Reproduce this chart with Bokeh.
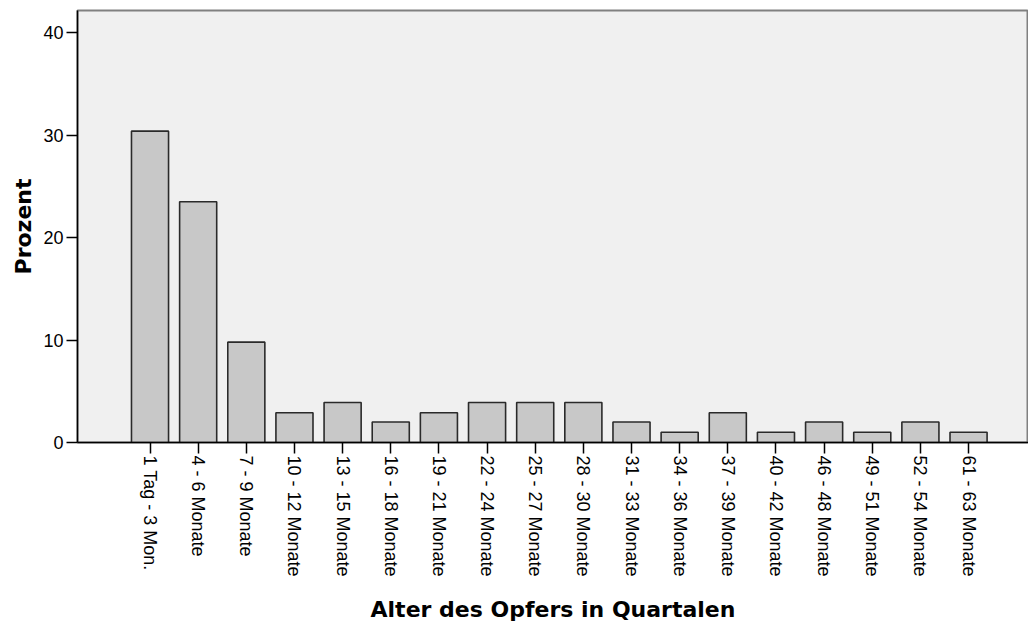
import math
from bokeh.plotting import figure
from bokeh.models import ColumnDataSource, FixedTicker, Range1d
from bokeh.embed import file_html
from bokeh.resources import INLINE

categories = ["1 Tag - 3 Mon.", "4 - 6 Monate", "7 - 9 Monate", "10 - 12 Monate",
              "13 - 15 Monate", "16 - 18 Monate", "19 - 21 Monate", "22 - 24 Monate",
              "25 - 27 Monate", "28 - 30 Monate", "31 - 33 Monate", "34 - 36 Monate",
              "37 - 39 Monate", "40 - 42 Monate", "46 - 48 Monate", "49 - 51 Monate",
              "52 - 54 Monate", "61 - 63 Monate"]
prozent = [30.4, 23.5, 9.8, 2.9, 3.9, 2.0, 2.9, 3.9, 3.9, 3.9, 2.0, 1.0,
           2.9, 1.0, 2.0, 1.0, 2.0, 1.0]
y_ticks = [0, 10, 20, 30, 40]

xs = list(range(len(categories)))
src = ColumnDataSource(dict(x=xs, top=prozent))

p = figure(width=1028, height=624, output_backend="svg", toolbar_location=None,
           x_range=Range1d(-1.506, 18.245), y_range=Range1d(0, 42.18),
           min_border_left=77, min_border_right=0, min_border_top=10,
           min_border_bottom=180)

p.background_fill_color = "#F0F0F0"
p.border_fill_color = "white"
p.outline_line_color = "#808080"
p.outline_line_width = 2
p.grid.visible = False

p.vbar(x="x", top="top", bottom=0, width=0.77, source=src,
       fill_color="#C8C8C8", line_color="#2a2a2a", line_width=1.6)

xa = p.xaxis[0]
xa.ticker = FixedTicker(ticks=xs)
xa.major_label_overrides = {i: c for i, c in enumerate(categories)}
xa.major_label_orientation = -math.pi / 2
xa.minor_tick_line_color = None
xa.major_tick_out = 11
xa.major_tick_in = 0
xa.major_label_standoff = 2
xa.major_label_text_font = "Liberation Sans"
xa.major_label_text_font_size = "18px"
xa.major_label_text_color = "black"
xa.axis_line_color = "black"
xa.axis_line_width = 1.5
xa.major_tick_line_width = 1.5
xa.axis_label = "Alter des Opfers in Quartalen"
xa.axis_label_text_font = "DejaVu Sans"
xa.axis_label_text_font_style = "bold"
xa.axis_label_text_font_size = "22px"
xa.axis_label_text_color = "black"
xa.axis_label_standoff = 17

ya = p.yaxis[0]
ya.ticker = FixedTicker(ticks=y_ticks)
ya.minor_tick_line_color = None
ya.major_tick_out = 11
ya.major_tick_in = 0
ya.major_label_standoff = 3
ya.major_label_text_font = "Liberation Sans"
ya.major_label_text_font_size = "18px"
ya.major_label_text_color = "black"
ya.axis_line_color = "black"
ya.axis_line_width = 1.5
ya.major_tick_line_width = 1.5
ya.axis_label = "Prozent"
ya.axis_label_text_font = "DejaVu Sans"
ya.axis_label_text_font_style = "bold"
ya.axis_label_text_font_size = "22px"
ya.axis_label_text_color = "black"
ya.axis_label_standoff = 4

open("out.html", "w").write(file_html(p, INLINE))
